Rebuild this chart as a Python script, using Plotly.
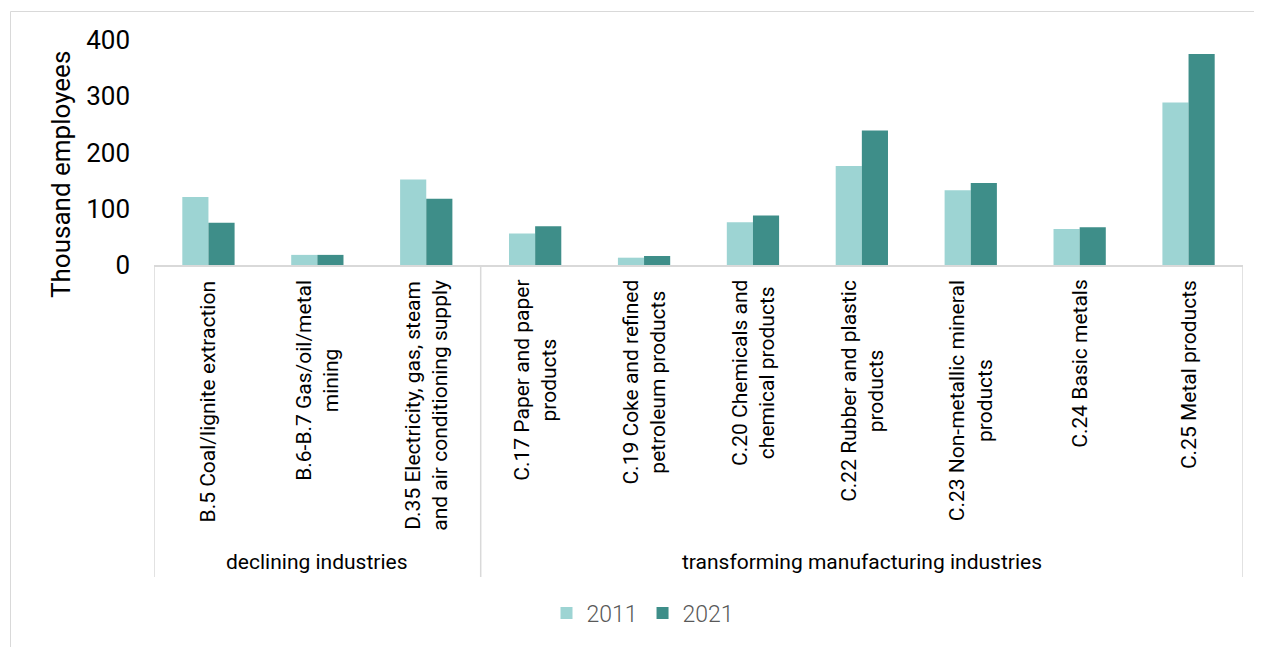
import plotly.graph_objects as go

categories = [
    "B.5 Coal/lignite extraction",
    "B.6-B.7 Gas/oil/metal<br>mining",
    "D.35 Electricity, gas, steam<br>and air conditioning supply",
    "C.17 Paper and paper<br>products",
    "C.19 Coke and refined<br>petroleum products",
    "C.20 Chemicals and<br>chemical products",
    "C.22 Rubber and plastic<br>products",
    "C.23 Non-metallic mineral<br>products",
    "C.24 Basic metals",
    "C.25 Metal products",
]
groups = ["declining industries", "transforming manufacturing industries"]
group_sizes = [3, 7]
values_2011 = [121, 18, 152, 56, 13, 76, 176, 133, 64, 289]
values_2021 = [75, 18, 118, 69, 16, 88, 239, 146, 67, 375]
y_ticks = [0, 100, 200, 300, 400]

OFF = 8  # page offset of the figure in the browser window
W, H = 1262 - OFF, 647 - OFF
L, R, T, B = 154 - OFF, 1243 - OFF, 40 - OFF, 265 - OFF
pw, ph = R - L, B - T


def px_x(x):
    return (x - OFF - L) / pw


def px_y(y):
    return (B - (y - OFF)) / ph


font_main = "Roboto, Noto Sans, sans-serif"
grid = "#D9D9D9"
keys = [str(i) for i in range(len(categories))]

fig = go.Figure()
fig.add_trace(go.Bar(name="2011", x=keys, y=values_2011, marker=dict(color="#9DD4D3", line=dict(width=0))))
fig.add_trace(go.Bar(name="2021", x=keys, y=values_2021, marker=dict(color="#3E8E89", line=dict(width=0))))

annotations = []
for k, c in zip(keys, categories):
    annotations.append(dict(
        x=k, xref="x", y=px_y(278), yref="paper", text=c, showarrow=False,
        textangle=-90, xanchor="center", yanchor="top", align="center",
        font=dict(family=font_main, size=21, color="#000000"),
    ))

start = 0
shapes = []
for g, n in zip(groups, group_sizes):
    center = start + (n - 1) / 2
    annotations.append(dict(
        x=center, xref="x", y=px_y(562), yref="paper", text=g, showarrow=False,
        xanchor="center", yanchor="middle",
        font=dict(family=font_main, size=21, color="#000000"),
    ))
    shapes.append(dict(type="line", xref="x", yref="paper", x0=start - 0.5, x1=start - 0.5,
                       y0=0, y1=px_y(577), line=dict(color=grid, width=1.5)))
    start += n
shapes.append(dict(type="line", xref="x", yref="paper", x0=start - 0.5, x1=start - 0.5,
                   y0=0, y1=px_y(577), line=dict(color=grid, width=1.5)))
shapes.append(dict(type="rect", xref="paper", yref="paper", x0=px_x(10.5), x1=px_x(1270),
                   y0=px_y(11.5), y1=px_y(660), line=dict(color=grid, width=1)))

annotations.append(dict(
    x=px_x(61), xref="paper", y=px_y(175), yref="paper", text="Thousand employees",
    showarrow=False, textangle=-90, xanchor="center", yanchor="middle",
    font=dict(family=font_main, size=26, color="#000000"),
))

fig.update_layout(
    width=W, height=H,
    margin=dict(l=L, r=W - R, t=T, b=H - B, pad=0),
    paper_bgcolor="white", plot_bgcolor="white",
    barmode="group", bargap=0.52, bargroupgap=0,
    font=dict(family=font_main),
    xaxis=dict(type="category", range=[-0.5, len(categories) - 0.5], showticklabels=False,
               showline=True, linecolor=grid, linewidth=1.5, ticks="", showgrid=False, zeroline=False),
    yaxis=dict(range=[0, 400], tickvals=y_ticks, showgrid=False, zeroline=False, showline=False,
               ticks="", ticklabelstandoff=23,
               tickfont=dict(family=font_main, size=26, color="#000000")),
    legend=dict(orientation="h", x=px_x(643), xanchor="center", y=px_y(613), yanchor="middle",
                font=dict(family=font_main, size=23, color="#595959", weight=300),
                itemwidth=30, traceorder="normal"),
    annotations=annotations,
    shapes=shapes,
)

fig.write_html("out.html")
